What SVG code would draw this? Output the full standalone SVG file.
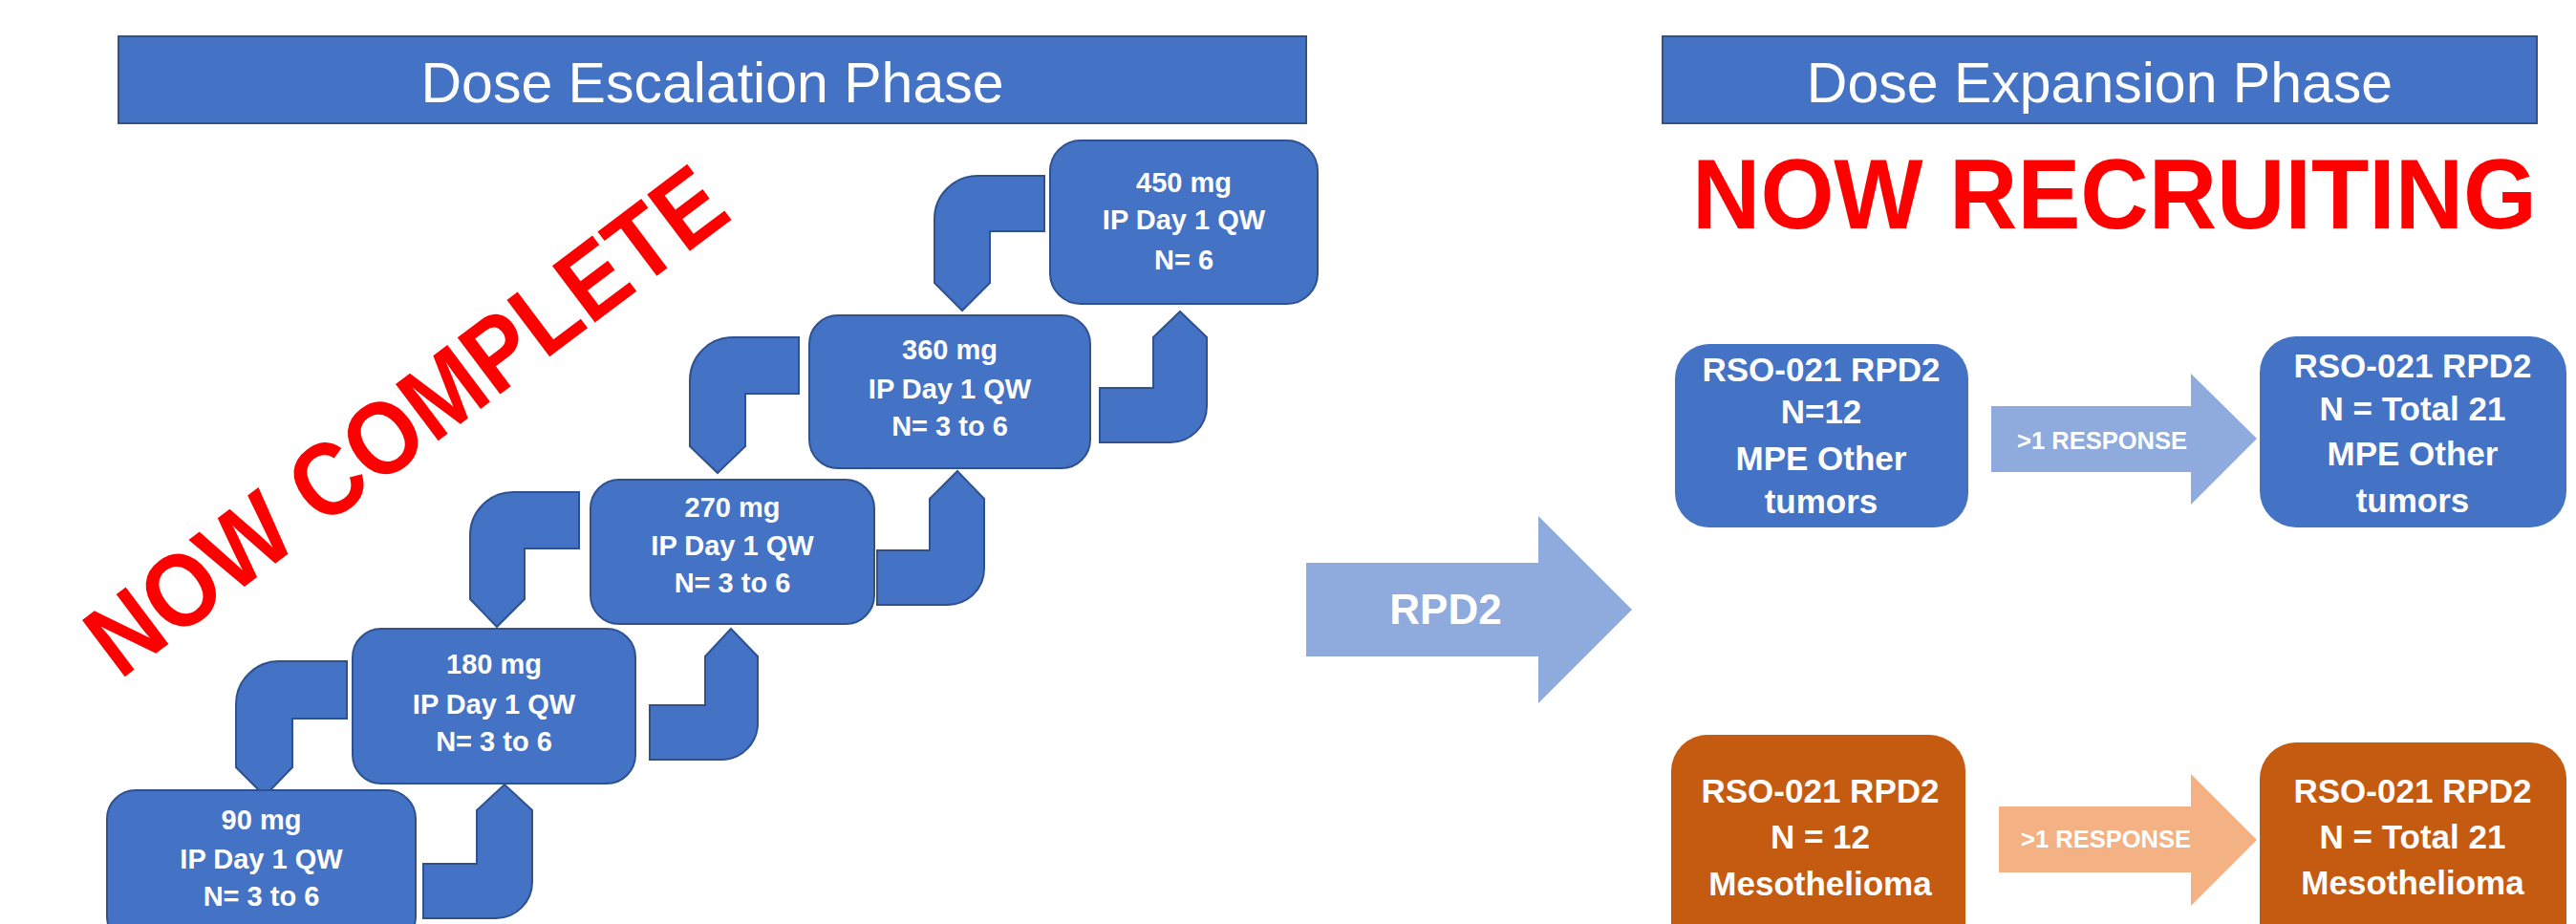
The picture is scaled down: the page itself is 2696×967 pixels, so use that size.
<svg xmlns="http://www.w3.org/2000/svg" width="2696" height="967" viewBox="0 0 2696 967">
<style>
.hdr{fill:#4472C4;stroke:#2F528F;stroke-width:2}
.hdrt{font-family:'Liberation Sans',Arial,sans-serif;font-size:59px;fill:#fff;text-anchor:middle}
.box{fill:#4472C4;stroke:#2F528F;stroke-width:2}
.bent{fill:#4472C4;stroke:#2F528F;stroke-width:2}
.bt{font-family:'Liberation Sans',Arial,sans-serif;font-weight:bold;font-size:29px;fill:#fff;text-anchor:middle}
.rbox{fill:#4472C4}
.obox{fill:#C55A11}
.rt{font-family:'Liberation Sans',Arial,sans-serif;font-weight:bold;font-size:35px;fill:#fff;text-anchor:middle}
.at{font-family:'Liberation Sans',Arial,sans-serif;font-weight:bold;font-size:25.5px;fill:#fff;text-anchor:middle}
.red{font-family:'Liberation Sans',Arial,sans-serif;font-weight:bold;fill:#FF0000;text-anchor:middle}
</style>
<rect width="2696" height="967" fill="#fff"/>

<g id="header-escalation">
<rect class="hdr" x="124" y="38" width="1243" height="91"/>
<text class="hdrt" x="745.5" y="107">Dose Escalation Phase</text>
</g>
<g id="header-expansion">
<rect class="hdr" x="1740" y="38" width="915" height="91"/>
<text class="hdrt" x="2197.5" y="107">Dose Expansion Phase</text>
</g>

<g id="label-now-complete">
<text class="red" font-size="108" transform="translate(447,470) rotate(-37)" x="0" y="0" textLength="805" lengthAdjust="spacingAndGlyphs">NOW COMPLETE</text>
</g>
<g id="label-now-recruiting">
<text class="red" font-size="103" x="2213" y="239" textLength="884" lengthAdjust="spacingAndGlyphs">NOW RECRUITING</text>
</g>

<g id="connectors">
<path class="bent" d="M1093,184 L1023,184 A45,45 0 0 0 978,229 L978,296 L1007,325 L1036,296 L1036,242 L1093,242 Z"/>
<path class="bent" d="M836,353 L767,353 A45,45 0 0 0 722,398 L722,467 L751,495 L780,467 L780,412 L836,412 Z"/>
<path class="bent" d="M606,515 L537,515 A45,45 0 0 0 492,560 L492,627 L520,656 L549,627 L549,574 L606,574 Z"/>
<path class="bent" d="M363,692 L292,692 A45,45 0 0 0 247,737 L247,803 L277,833 L306,803 L306,752 L363,752 Z"/>
<path class="bent" d="M443,961 L519,961 A38,38 0 0 0 557,923 L557,848 L528,821 L499,848 L499,904 L443,904 Z"/>
<path class="bent" d="M680,795 L755,795 A38,38 0 0 0 793,757 L793,687 L765,658 L738,687 L738,738 L680,738 Z"/>
<path class="bent" d="M918,633 L992,633 A38,38 0 0 0 1030,595 L1030,522 L1002,493 L973,522 L973,576 L918,576 Z"/>
<path class="bent" d="M1151,463 L1225,463 A38,38 0 0 0 1263,425 L1263,353 L1235,326 L1207,353 L1207,406 L1151,406 Z"/>
<g id="arrow-rpd2">
<path fill="#8FAADC" d="M1367,589 L1610,589 L1610,540 L1708,638 L1610,736 L1610,687 L1367,687 Z"/>
<text class="rt" x="1513" y="653" style="font-size:44px">RPD2</text>
</g>
<g id="arrow-response-mpe">
<path fill="#8FAADC" d="M2084,425 L2293,425 L2293,391 L2362,459 L2293,528 L2293,494 L2084,494 Z"/>
<text class="at" x="2200" y="470">&gt;1 RESPONSE</text>
</g>
<g id="arrow-response-meso">
<path fill="#F4B183" d="M2092,844 L2293,844 L2293,810 L2362,879 L2293,948 L2293,913 L2092,913 Z"/>
<text class="at" x="2204" y="887">&gt;1 RESPONSE</text>
</g>
</g>

<g id="node-90mg">
<rect class="box" x="112" y="827" width="323" height="162" rx="30"/>
<text class="bt" x="273.5" y="868">90 mg</text>
<text class="bt" x="273.5" y="909">IP Day 1 QW</text>
<text class="bt" x="273.5" y="948">N= 3 to 6</text>
</g>
<g id="node-180mg">
<rect class="box" x="369" y="658" width="296" height="162" rx="30"/>
<text class="bt" x="517" y="705">180 mg</text>
<text class="bt" x="517" y="747">IP Day 1 QW</text>
<text class="bt" x="517" y="786">N= 3 to 6</text>
</g>
<g id="node-270mg">
<rect class="box" x="618" y="502" width="297" height="151" rx="30"/>
<text class="bt" x="766.5" y="541">270 mg</text>
<text class="bt" x="766.5" y="581">IP Day 1 QW</text>
<text class="bt" x="766.5" y="620">N= 3 to 6</text>
</g>
<g id="node-360mg">
<rect class="box" x="847" y="330" width="294" height="160" rx="30"/>
<text class="bt" x="994" y="376">360 mg</text>
<text class="bt" x="994" y="417">IP Day 1 QW</text>
<text class="bt" x="994" y="456">N= 3 to 6</text>
</g>
<g id="node-450mg">
<rect class="box" x="1099" y="147" width="280" height="171" rx="32"/>
<text class="bt" x="1239" y="201">450 mg</text>
<text class="bt" x="1239" y="240">IP Day 1 QW</text>
<text class="bt" x="1239" y="282">N= 6</text>
</g>

<g id="node-mpe-12">
<rect class="rbox" x="1753" y="360" width="307" height="192" rx="36"/>
<text class="rt" x="1906" y="399">RSO-021 RPD2</text>
<text class="rt" x="1906" y="443">N=12</text>
<text class="rt" x="1906" y="492">MPE Other</text>
<text class="rt" x="1906" y="537">tumors</text>
</g>
<g id="node-mpe-21">
<rect class="rbox" x="2365" y="352" width="321" height="200" rx="38"/>
<text class="rt" x="2525" y="395">RSO-021 RPD2</text>
<text class="rt" x="2525" y="440">N = Total 21</text>
<text class="rt" x="2525" y="487">MPE Other</text>
<text class="rt" x="2525" y="536">tumors</text>
</g>
<g id="node-meso-12">
<rect class="obox" x="1749" y="769" width="308" height="240" rx="38"/>
<text class="rt" x="1905" y="840">RSO-021 RPD2</text>
<text class="rt" x="1905" y="888">N = 12</text>
<text class="rt" x="1905" y="937">Mesothelioma</text>
</g>
<g id="node-meso-21">
<rect class="obox" x="2365" y="777" width="321" height="240" rx="38"/>
<text class="rt" x="2525" y="840">RSO-021 RPD2</text>
<text class="rt" x="2525" y="888">N = Total 21</text>
<text class="rt" x="2525" y="936">Mesothelioma</text>
</g>
</svg>
